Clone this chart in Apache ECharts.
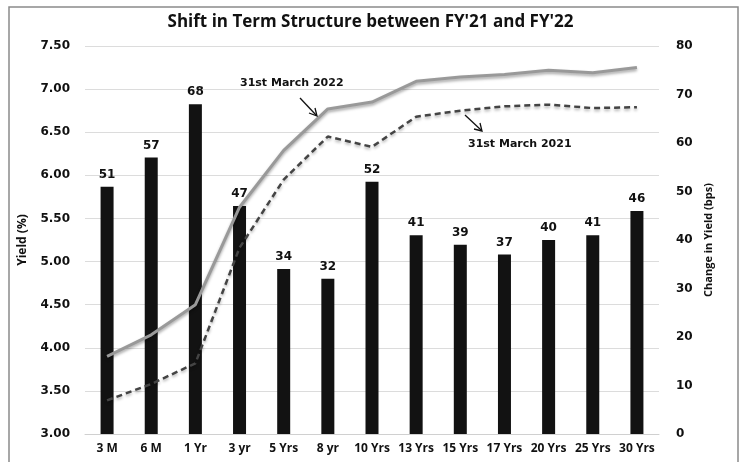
<!DOCTYPE html>
<html>
<head>
<meta charset="utf-8">
<script src="https://cdn.jsdelivr.net/npm/echarts@6/dist/echarts.min.js"></script>
<style>
html,body{margin:0;padding:0;background:#fff;}
#chart{width:741px;height:462px;}
</style>
</head>
<body>
<div id="chart"></div>
<script>
var categories = ['3 M','6 M','1 Yr','3 yr','5 Yrs','8 yr','10 Yrs','13 Yrs','15 Yrs','17 Yrs','20 Yrs','25 Yrs','30 Yrs'];
var changeBps = [51,57,68,47,34,32,52,41,39,37,40,41,46];
var yield2022 = [3.90,4.15,4.50,5.63,6.29,6.77,6.85,7.09,7.14,7.17,7.22,7.19,7.25];
var yield2021 = [3.39,3.58,3.82,5.16,5.95,6.45,6.33,6.68,6.75,6.80,6.82,6.78,6.79];
var leftTicks = {min:3, max:7.5, interval:0.5};
var rightTicks = {min:0, max:80, interval:10};

var FONT = '"Open Sans", "Liberation Sans", sans-serif';
var WIDE = '"DejaVu Sans", Verdana, sans-serif';
var chart = echarts.init(document.getElementById('chart'), null, {renderer:'canvas'});
var option = {
  backgroundColor:'#fff',
  animation:false,
  title:{
    text:"Shift in Term Structure between FY'21 and FY'22",
    left:'center', top:9,
    textStyle:{fontFamily:FONT, fontSize:17, fontWeight:'bold', color:'#111'}
  },
  grid:{left:85, right:82, top:46, bottom:28, containLabel:false},
  xAxis:{
    type:'category', data:categories,
    axisTick:{show:false},
    axisLine:{lineStyle:{color:'#d0d0d0', width:1}},
    axisLabel:{fontFamily:FONT, fontSize:12, fontWeight:'bold', color:'#111', margin:9, interval:0}
  },
  yAxis:[{
    type:'value', min:leftTicks.min, max:leftTicks.max, interval:leftTicks.interval,
    name:'Yield (%)', nameLocation:'middle', nameGap:56, nameRotate:90,
    nameTextStyle:{fontFamily:FONT, fontSize:12, fontWeight:'bold', color:'#111'},
    axisLabel:{fontFamily:WIDE, fontSize:12, fontWeight:'bold', color:'#111', margin:15,
      formatter:function(v){return v.toFixed(2);}},
    axisLine:{show:false}, axisTick:{show:false},
    splitLine:{lineStyle:{color:'#dcdcdc', width:1}}
  },{
    type:'value', min:rightTicks.min, max:rightTicks.max, interval:rightTicks.interval,
    name:'Change in Yield (bps)', nameLocation:'middle', nameGap:41, nameRotate:90,
    nameTextStyle:{fontFamily:FONT, fontSize:11, fontWeight:'bold', color:'#111'},
    axisLabel:{fontFamily:WIDE, fontSize:12, fontWeight:'bold', color:'#111', margin:17},
    axisLine:{show:false}, axisTick:{show:false},
    splitLine:{show:false}
  }],
  series:[{
    type:'bar', yAxisIndex:1, data:changeBps, barWidth:13,
    itemStyle:{color:'#121212'},
    label:{show:true, position:'top', distance:6, fontFamily:WIDE, fontSize:12, fontWeight:'bold', color:'#111'},
    z:2
  },{
    type:'line', yAxisIndex:0, data:yield2022, symbol:'none',
    lineStyle:{color:'#999999', width:3, shadowColor:'rgba(0,0,0,0.35)', shadowBlur:3, shadowOffsetY:2},
    z:3
  },{
    type:'line', yAxisIndex:0, data:yield2021, symbol:'none',
    lineStyle:{color:'#444444', width:2.5, type:[6,4], shadowColor:'rgba(0,0,0,0.3)', shadowBlur:3, shadowOffsetY:2},
    z:3
  }],
  graphic:[
    {type:'rect', shape:{x:9, y:7, width:729, height:470}, style:{fill:'none', stroke:'#8a8a8a', lineWidth:1.5}, z:0, silent:true},
    {type:'text', left:240, top:78, style:{text:'31st March 2022', fontFamily:WIDE, fontSize:11, fontWeight:'bold', fill:'#111'}, z:10},
    {type:'line', shape:{x1:300, y1:98, x2:316, y2:115}, style:{stroke:'#111', lineWidth:1.3}, z:10},
    {type:'polyline', shape:{points:[[309,113],[317,116],[315,108]]}, style:{stroke:'#111', lineWidth:1.3, fill:'none'}, z:10},
    {type:'text', left:468, top:139, style:{text:'31st March 2021', fontFamily:WIDE, fontSize:11, fontWeight:'bold', fill:'#111'}, z:10},
    {type:'line', shape:{x1:465, y1:115, x2:481, y2:130}, style:{stroke:'#111', lineWidth:1.3}, z:10},
    {type:'polyline', shape:{points:[[474,129],[482,131],[480,123]]}, style:{stroke:'#111', lineWidth:1.3, fill:'none'}, z:10}
  ]
};
chart.setOption(option);
</script>
</body>
</html>
